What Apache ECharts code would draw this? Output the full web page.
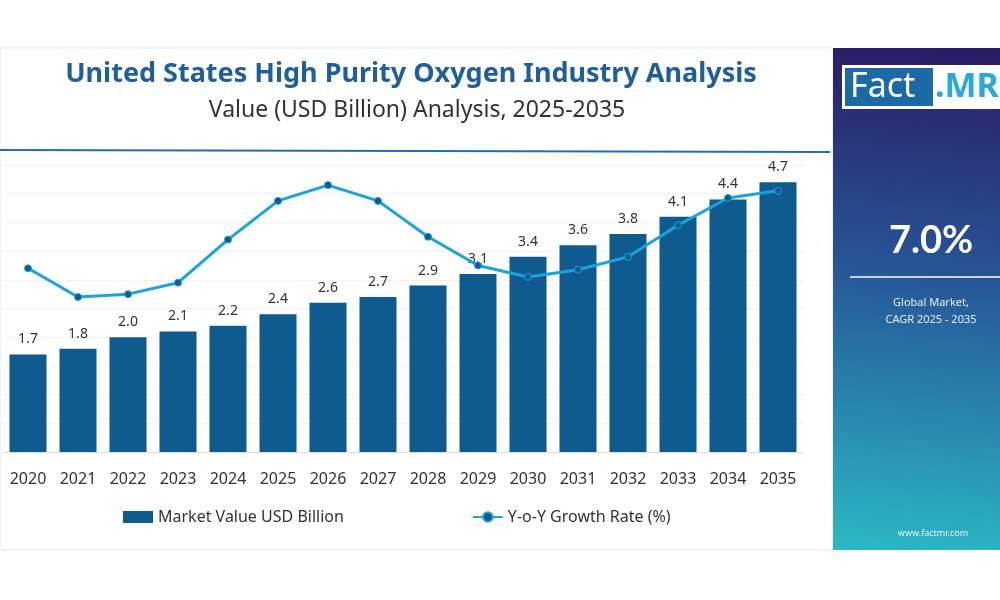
<!DOCTYPE html>
<html><head><meta charset="utf-8">
<script src="https://cdn.jsdelivr.net/npm/echarts@6/dist/echarts.min.js"></script>
<style>html,body{margin:0;padding:0;background:#fff}#c{width:1000px;height:600px}</style>
</head><body><div id="c"></div>
<script>
const years = ['2020','2021','2022','2023','2024','2025','2026','2027','2028','2029','2030','2031','2032','2033','2034','2035'];
const marketValue = [1.7,1.8,2.0,2.1,2.2,2.4,2.6,2.7,2.9,3.1,3.4,3.6,3.8,4.1,4.4,4.7];
const yoyGrowth = [6.4,5.4,5.5,5.9,7.4,8.75,9.3,8.75,7.5,6.5,6.1,6.35,6.8,7.9,8.85,9.1];
const chart = echarts.init(document.getElementById('c'));
chart.setOption({
  animation:false,
  graphic:[
    {type:'rect',shape:{x:0,y:48,width:833,height:502},style:{fill:'#fff',stroke:'#e6e6e6',lineWidth:1},z:-10},
    {type:'line',shape:{x1:0,y1:150,x2:830,y2:152},style:{stroke:'#1f6fae',lineWidth:2}},
    {type:'rect',shape:{x:833,y:48,width:167,height:502},style:{fill:new echarts.graphic.LinearGradient(0.3,0,0,1,[{offset:0,color:'#2a1d66'},{offset:0.45,color:'#27589a'},{offset:1,color:'#2bb8c4'}])}},
    {type:'rect',shape:{x:842,y:65,width:170,height:44},style:{fill:'#fff'}},
    {type:'rect',shape:{x:845,y:68,width:88,height:38},style:{fill:'#1b6aa5'}},
    {type:'text',style:{x:850,y:70,text:'Fact',fill:'#fff',font:'34px "Noto Sans"'}},
    {type:'text',style:{x:935,y:70,text:'.MR',fill:'#29a9e0',font:'bold 34px "Noto Sans"'}},
    {type:'text',style:{x:931,y:222,text:'7.0%',fill:'#fff',font:'bold 38px Lato',align:'center'}},
    {type:'line',shape:{x1:850,y1:277,x2:1000,y2:277},style:{stroke:'#c8d3e6',lineWidth:2}},
    {type:'text',style:{x:931,y:294,text:'Global Market,\nCAGR 2025 - 2035',fill:'#e8eef8',font:'11px "Noto Sans"',align:'center',lineHeight:17}},
    {type:'text',style:{x:933,y:529,text:'www.factmr.com',fill:'#e8f4f8',font:'9px "Noto Sans"',align:'center'}}
  ],
  title:[
    {text:'United States High Purity Oxygen Industry Analysis',left:406,top:56,textAlign:'center',textStyle:{fontFamily:'Noto Sans',fontWeight:'bold',fontSize:27,color:'#1f5f9c'}},
    {text:'Value (USD Billion) Analysis, 2025-2035',left:412,top:94,textAlign:'center',textStyle:{fontFamily:'Noto Sans',fontWeight:'normal',fontSize:23,color:'#333'}}
  ],
  legend:{left:118,top:504,itemGap:128,textStyle:{fontFamily:'Noto Sans',fontSize:16,color:'#333'},
    data:[{name:'Market Value USD Billion',icon:'rect',itemStyle:{color:'#0f5a8e'}},{name:'Y-o-Y Growth Rate (%)'}],itemWidth:30,itemHeight:12},
  grid:{left:3,right:197,top:165,bottom:148},
  xAxis:{type:'category',data:years,axisTick:{show:false},axisLine:{lineStyle:{color:'#ddd'}},
    axisLabel:{fontFamily:'Noto Sans',fontSize:16,color:'#333',margin:19}},
  yAxis:[{type:'value',min:0,max:5,interval:0.5,axisLabel:{show:false},splitLine:{lineStyle:{color:'#f2f2f2'}}},
    {type:'value',min:0,max:10,show:false,splitLine:{show:false}}],
  series:[
    {name:'Market Value USD Billion',type:'bar',data:marketValue,barWidth:37,itemStyle:{color:'#0f5a8e'},
      label:{show:true,position:'top',distance:8,fontFamily:'Noto Sans',fontSize:14,color:'#333',formatter:p=>p.value.toFixed(1)}},
    {name:'Y-o-Y Growth Rate (%)',type:'line',yAxisIndex:1,data:yoyGrowth,symbol:'circle',symbolSize:7,
      lineStyle:{color:'#1aa3dc',width:3},itemStyle:{color:'#0f5a8e',borderColor:'#1aa3dc',borderWidth:1}}
  ]
});
</script></body></html>
